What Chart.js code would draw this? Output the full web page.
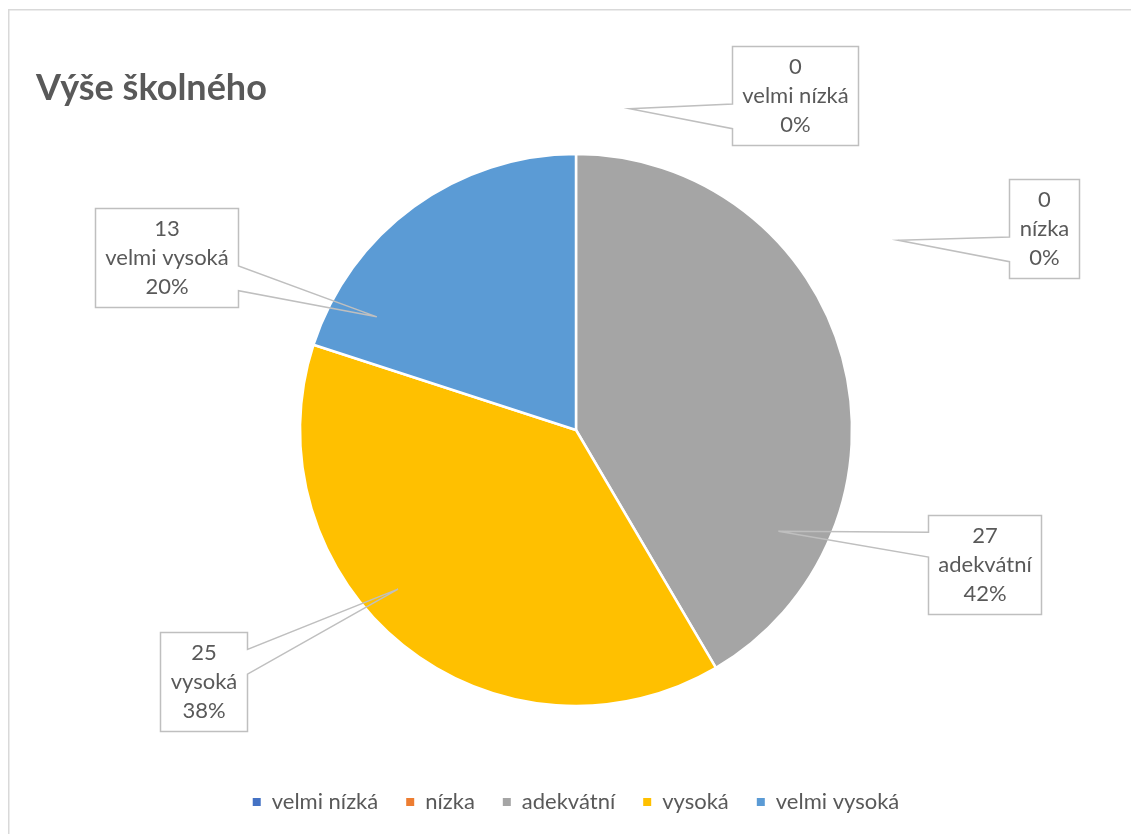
<!DOCTYPE html>
<html>
<head>
<meta charset="utf-8">
<script src="https://cdn.jsdelivr.net/npm/chart.js@4"></script>
<style>
body { margin: 0; background: #fff; }
#wrap { width: 1131px; height: 834px; }
</style>
</head>
<body>
<div id="wrap"><canvas id="skolne" width="1131" height="834"></canvas></div>
<script>
var categories = ['velmi nízká', 'nízka', 'adekvátní', 'vysoká', 'velmi vysoká'];
var counts = [0, 0, 27, 25, 13];
var colors = ['#4472C4', '#ED7D31', '#A5A5A5', '#FFC000', '#5B9BD5'];

// callouts: where the leader points (deg from top, share of radius) and box offset from pie centre
var calloutAngle = [9.5, 59.5, 116.6, 228.2, 299.6];
var calloutReach = [1.18, 1.355, 0.82, 0.865, 0.83];
var calloutDx = [219, 468, 409, -373, -409];
var calloutDy = [-335, -202, 134, 251, -173];

var textColor = '#595959';
var labelFont = '22px Lato';
var padX = 10, padY = 6, lineH = 29;

var frame = {
    id: 'frame',
    beforeDraw: function (chart)
    {
        var ctx = chart.ctx;
        ctx.save();
        ctx.fillStyle = '#fff';
        ctx.fillRect(0, 0, chart.width, chart.height);
        ctx.strokeStyle = '#d9d9d9';
        ctx.lineWidth = 1.5;
        ctx.strokeRect(8.75, 9.75, chart.width, chart.height);
        ctx.font = 'bold 36px Lato';
        ctx.fillStyle = textColor;
        ctx.fillText('Výše školného', 36, 88);
        ctx.restore();
    }
};

var callouts = {
    id: 'callouts',
    afterDatasetsDraw: function (chart)
    {
        var ctx = chart.ctx;
        var arcs = chart.getDatasetMeta(0).data;
        var cx = arcs[0].x, cy = arcs[0].y, r = arcs[0].outerRadius;
        var total = counts.reduce(function (a, b) { return a + b; }, 0);

        ctx.save();
        ctx.font = labelFont;
        ctx.strokeStyle = '#bfbfbf';
        ctx.lineWidth = 1.5;
        for (var i = 0; i < categories.length; i++)
        {
            var lines = [String(counts[i]), categories[i], Math.round(counts[i] / total * 100) + '%'];
            var w = Math.max.apply(null, lines.map(function (t) { return ctx.measureText(t).width; })) + 2 * padX;
            var h = lines.length * lineH + 2 * padY;
            var bx = Math.round(cx + calloutDx[i] - w / 2) + 0.5;
            var by = Math.round(cy + calloutDy[i] - h / 2) + 0.5;
            w = Math.round(w); h = Math.round(h);

            var a = calloutAngle[i] * Math.PI / 180;
            var tx = cx + r * calloutReach[i] * Math.sin(a);
            var ty = cy - r * calloutReach[i] * Math.cos(a);
            var low = ty > by + h / 2;
            var y1 = by + h * (low ? 0.58 : 0.17);
            var y2 = by + h * (low ? 0.83 : 0.42);

            ctx.fillStyle = '#fff';
            ctx.fillRect(bx, by, w, h);
            ctx.beginPath();
            if (tx < bx)
            {
                ctx.moveTo(bx, y1); ctx.lineTo(bx, by); ctx.lineTo(bx + w, by);
                ctx.lineTo(bx + w, by + h); ctx.lineTo(bx, by + h); ctx.lineTo(bx, y2);
            }
            else
            {
                ctx.moveTo(bx + w, y1); ctx.lineTo(bx + w, by); ctx.lineTo(bx, by);
                ctx.lineTo(bx, by + h); ctx.lineTo(bx + w, by + h); ctx.lineTo(bx + w, y2);
            }
            ctx.lineTo(tx, ty);
            ctx.closePath();
            ctx.stroke();

            ctx.fillStyle = textColor;
            ctx.textAlign = 'center';
            ctx.textBaseline = 'middle';
            for (var j = 0; j < lines.length; j++)
                ctx.fillText(lines[j], bx + w / 2, by + padY + lineH * (j + 0.5));
        }
        ctx.restore();
    }
};

new Chart(document.getElementById('skolne'),
    {
        type: 'pie',
        data:
        {
            labels: categories,
            datasets: [
                {
                    data: counts,
                    backgroundColor: colors,
                    borderColor: '#fff',
                    borderWidth: 2.5,
                    radius: 276
                }
            ]
        },
        options:
        {
            responsive: false,
            animation: false,
            devicePixelRatio: 1,
            layout: { padding: { top: 97, bottom: 11, left: 21, right: 0 } },
            plugins:
            {
                tooltip: { enabled: false },
                legend:
                {
                    position: 'bottom',
                    labels:
                    {
                        color: textColor,
                        font: { family: 'Lato', size: 22 },
                        boxWidth: 8,
                        boxHeight: 8,
                        padding: 28,
                        generateLabels: function (chart)
                        {
                            return Chart.overrides.pie.plugins.legend.labels.generateLabels(chart)
                                .map(function (item) { item.lineWidth = 0; return item; });
                        }
                    }
                }
            }
        },
        plugins: [frame, callouts]
    });
</script>
</body>
</html>
